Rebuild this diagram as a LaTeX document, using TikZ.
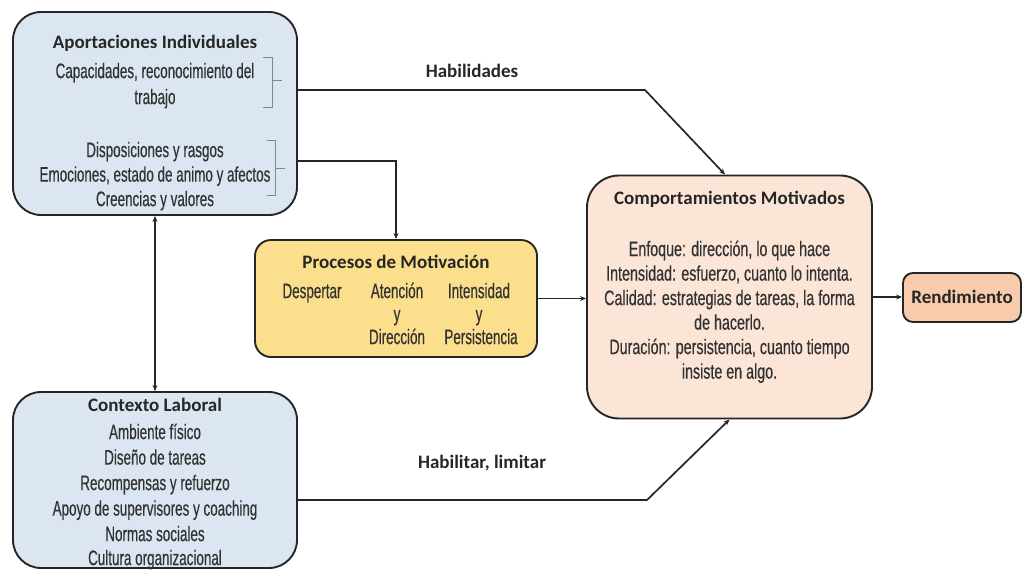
\documentclass[tikz,border=0pt]{standalone}
\usepackage{fontspec}
\setmainfont{Carlito}
\newfontfamily\condfont[FakeStretch=0.64,FakeBold=0.4]{Liberation Sans}
\newfontfamily\condwide[FakeStretch=0.68,FakeBold=0.4]{Liberation Sans}
\usetikzlibrary{arrows.meta}

\definecolor{bluefill}{RGB}{220,230,243}
\definecolor{goldfill}{RGB}{252,223,140}
\definecolor{peachfill}{RGB}{251,229,214}
\definecolor{salmonfill}{RGB}{248,203,173}
\definecolor{ink}{RGB}{38,38,38}
\definecolor{bodyink}{RGB}{50,50,50}
\definecolor{bracketgray}{RGB}{125,135,150}

\tikzset{
  box/.style={draw=ink, line width=1.9pt, inner sep=0pt},
  title/.style={font=\fontsize{19}{22}\bfseries\selectfont, text=ink, inner sep=0pt,
    text height=0.66em, text depth=0.2em, yshift=-3.5pt},
  body/.style={font=\condfont\fontsize{21}{24}\selectfont, text=bodyink, inner sep=0pt,
    text height=0.72em, text depth=0.2em, yshift=-3.5pt},
  bodywide/.style={body, font=\condwide\fontsize{21}{24}\selectfont},
  conn/.style={draw=ink, line width=1.7pt},
  tip/.style={-{Stealth[length=6pt,width=5pt]}},
  bracket/.style={draw=bracketgray, line width=0.8pt}
}

\begin{document}
\begin{tikzpicture}[x=1pt,y=-1pt]
\useasboundingbox (0,0) rectangle (1024,570);

% --- boxes ---
\node[box, fill=bluefill, rounded corners=28pt, minimum width=284pt, minimum height=203pt]
  (aport) at (155,113.5) {};
\node[box, fill=bluefill, rounded corners=28pt, minimum width=284pt, minimum height=176pt]
  (contexto) at (155,480) {};
\node[box, fill=goldfill, rounded corners=16pt, minimum width=282pt, minimum height=117pt]
  (procesos) at (396,298.5) {};
\node[box, fill=peachfill, rounded corners=32pt, minimum width=285pt, minimum height=243pt]
  (comport) at (729.5,297) {};
\node[box, fill=salmonfill, rounded corners=10pt, minimum width=118pt, minimum height=49pt]
  (rend) at (962,297.5) {};

% --- Aportaciones Individuales ---
\node[title] (aportT) at (155,43) {Aportaciones Individuales};
\node[body] (aport1) at (155,72) {Capacidades, reconocimiento del};
\node[body] (aport2) at (155,98) {trabajo};
\node[body] (aport3) at (155,151) {Disposiciones y rasgos};
\node[body] (aport4) at (155,175.5) {Emociones, estado de animo y afectos};
\node[body] (aport5) at (155,200) {Creencias y valores};

% brackets grouping the two blocks of items
\draw[bracket] (263,57) -- (272,57) -- (272,107) -- (263,107);
\draw[bracket] (272,80) -- (282,80);
\draw[bracket] (267,140) -- (275,140) -- (275,195) -- (267,195);
\draw[bracket] (275,168) -- (285,168);

% --- Contexto Laboral ---
\node[title] (ctxT) at (155,406) {Contexto Laboral};
\node[body] (ctx1) at (155,433) {Ambiente físico};
\node[body] (ctx2) at (155,458.5) {Diseño de tareas};
\node[body] (ctx3) at (155,484) {Recompensas y refuerzo};
\node[body] (ctx4) at (155,509.5) {Apoyo de supervisores y coaching};
\node[body] (ctx5) at (155,535) {Normas sociales};
\node[body] (ctx6) at (155,559) {Cultura organizacional};

% --- Procesos de Motivación ---
\node[title] (procT) at (396,263) {Procesos de Motivación};
\node[body] (proc1) at (312,292) {Despertar};
\node[body] (proc2) at (397,292) {Atención};
\node[body] (proc3) at (479,292) {Intensidad};
\node[body] (proc4) at (397,315) {y};
\node[body] (proc5) at (479,315) {y};
\node[body] (proc6) at (397,338) {Dirección};
\node[body] (proc7) at (481,338) {Persistencia};

% --- Comportamientos Motivados ---
\node[title] (compT) at (729.5,199) {Comportamientos Motivados};
\node[bodywide] (comp1) at (729.5,250) {Enfoque: dirección, lo que hace};
\node[bodywide] (comp2) at (729.5,274.5) {Intensidad: esfuerzo, cuanto lo intenta.};
\node[bodywide] (comp3) at (729.5,299) {Calidad: estrategias de tareas, la forma};
\node[bodywide] (comp4) at (729.5,323.5) {de hacerlo.};
\node[bodywide] (comp5) at (729.5,348) {Duración: persistencia, cuanto tiempo};
\node[bodywide] (comp6) at (729.5,372.5) {insiste en algo.};

% --- Rendimiento ---
\node[title] (rendT) at (rend.center) {Rendimiento};

% --- connectors ---
\coordinate (habBend) at (645,90);
\coordinate (habEnd) at (725,0 |- comport.north);
\draw[conn, tip] (aport.east |- habBend) -- (habBend) -- (habEnd);
\node[title] (habL) at (472,72) {Habilidades};

\coordinate (procIn) at (procesos.north |- 0,161);
\draw[conn, tip] (aport.east |- procIn) -- (procIn) -- (procesos.north);

\draw[conn, tip] (procesos.east) -- (procesos.east -| comport.west);
\draw[conn, tip] (comport.east) -- (comport.east -| rend.west);

\draw[conn, {Stealth[length=6pt,width=5pt]}-{Stealth[length=6pt,width=5pt]}]
  (aport.south) -- (contexto.north);

\coordinate (limBend) at (647,500);
\draw[conn, tip] (contexto.east |- limBend) -- (limBend) -- (comport.south);
\node[title] (limL) at (482,463) {Habilitar, limitar};

\end{tikzpicture}
\end{document}
